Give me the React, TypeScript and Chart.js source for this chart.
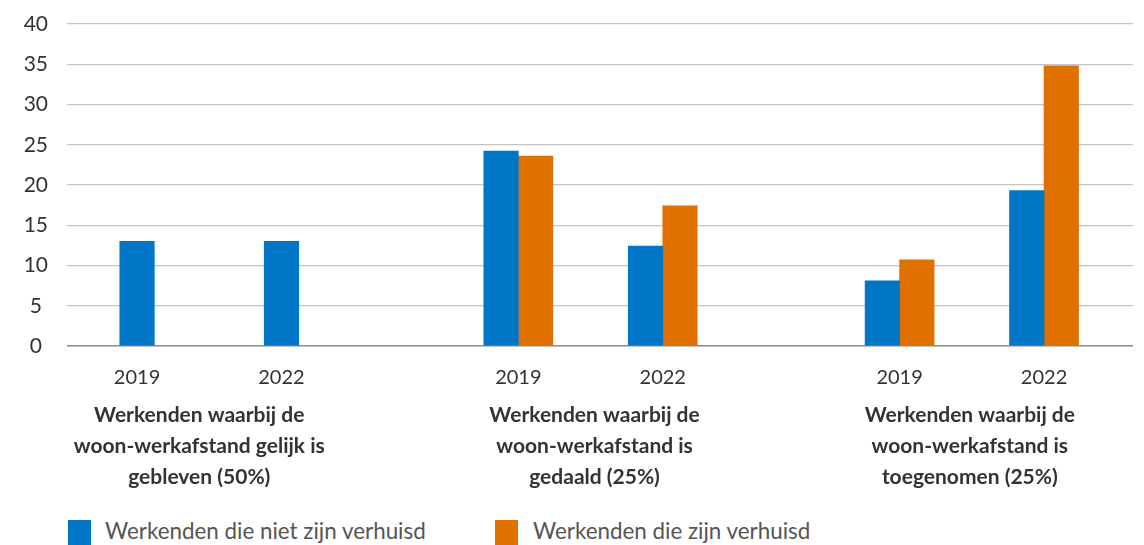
import React, { useEffect, useRef } from "react";
import { Chart, registerables } from "chart.js";

Chart.register(...registerables);

// ---- data ----
const yearLabels = ["2019", "2022", "2019", "2022", "2019", "2022"];
const groupTitles = [
  ["Werkenden waarbij de", "woon-werkafstand gelijk is", "gebleven (50%)"],
  ["Werkenden waarbij de", "woon-werkafstand is", "gedaald (25%)"],
  ["Werkenden waarbij de", "woon-werkafstand is", "toegenomen (25%)"],
];
const seriesNames = ["Werkenden die niet zijn verhuisd", "Werkenden die zijn verhuisd"];
const notMoved = [13.0, 13.0, 24.2, 12.4, 8.1, 19.3];
const moved: (number | null)[] = [null, null, 23.6, 17.4, 10.7, 34.8];
const yTicks = [0, 5, 10, 15, 20, 25, 30, 35, 40];

// ---- layout (slot positions on the x axis: year pitch 1, group pitch) ----
const GROUP_PITCH = 2.64;
const slotPos = yearLabels.map((_, i) => Math.floor(i / 2) * GROUP_PITCH + (i % 2));
const titleShift = [-10, 4, -2];

const BLUE = "#0076c6";
const ORANGE = "#e07000";
const FONT = "Lato";

const groupTitlePlugin = {
  id: "groupTitles",
  afterDraw(chart: any) {
    const { ctx, chartArea, scales } = chart;
    const xs = scales.x;
    ctx.save();
    ctx.fillStyle = "#333333";
    ctx.font = `bold 21px ${FONT}`;
    ctx.textAlign = "center";
    ctx.textBaseline = "middle";
    groupTitles.forEach((lines, g) => {
      const cx =
        (xs.getPixelForValue(slotPos[g * 2]) + xs.getPixelForValue(slotPos[g * 2 + 1])) / 2 + titleShift[g];
      lines.forEach((line, li) => {
        ctx.fillText(line, cx, chartArea.bottom + 69 + li * 31);
      });
    });
    ctx.restore();
  },
};

export default function App() {
  const ref = useRef<HTMLCanvasElement>(null);

  useEffect(() => {
    if (!ref.current) return;
    const chart = new Chart(ref.current, {
      type: "bar",
      data: {
        datasets: [
          {
            label: seriesNames[0],
            data: notMoved.map((v, i) => ({ x: slotPos[i], y: v })),
            backgroundColor: BLUE,
          },
          {
            label: seriesNames[1],
            data: moved.map((v, i) => ({ x: slotPos[i], y: v })),
            backgroundColor: ORANGE,
          },
        ],
      },
      options: {
        responsive: false,
        animation: false,
        maintainAspectRatio: false,
        layout: { padding: { top: 24, right: 11, left: 0, bottom: 0 } },
        datasets: {
          bar: { barThickness: 34.5, skipNull: true, grouped: true } as any,
        },
        plugins: {
          legend: { display: false },
          tooltip: { enabled: false },
        },
        scales: {
          x: {
            type: "linear",
            min: -0.485,
            max: 6.896,
            offset: false,
            grid: { display: false, offset: false },
            border: { display: false },
            afterBuildTicks: (scale: any) => {
              scale.ticks = slotPos.map((v) => ({ value: v }));
            },
            afterFit: (scale: any) => {
              scale.height = 154;
            },
            ticks: {
              autoSkip: false,
              maxRotation: 0,
              padding: 12,
              color: "#333333",
              font: { family: FONT, size: 20 },
              callback: (_v: any, i: number) => yearLabels[i],
            },
          },
          y: {
            min: 0,
            max: 40,
            afterBuildTicks: (scale: any) => {
              scale.ticks = yTicks.map((v) => ({ value: v }));
            },
            afterFit: (scale: any) => {
              scale.width = 67;
              scale.paddingTop = 12;
              scale.paddingBottom = 12;
            },
            border: { display: false },
            grid: {
              drawTicks: false,
              color: (c: any) => (c.tick && c.tick.value === 0 ? "#8a8a8a" : "#c4c4c4"),
              lineWidth: (c: any) => (c.tick && c.tick.value === 0 ? 1.6 : 1.2),
            },
            ticks: {
              crossAlign: "center",
              padding: 19,
              color: "#333333",
              font: { family: FONT, size: 21 },
            },
          },
        },
      },
      plugins: [groupTitlePlugin],
    });
    return () => chart.destroy();
  }, []);

  const legendItem = (color: string, text: string, boxLeft: number, textLeft: number) => (
    <>
      <div
        style={{ position: "absolute", left: boxLeft, top: 520, width: 23, height: 25, background: color }}
      />
      <div
        style={{
          position: "absolute",
          left: textLeft,
          top: 517,
          fontFamily: FONT,
          fontSize: 22.4,
          lineHeight: "28px",
          color: "#555555",
          whiteSpace: "nowrap",
        }}
      >
        {text}
      </div>
    </>
  );

  return (
    <div
      style={{
        position: "fixed",
        left: 0,
        top: 0,
        width: 1144,
        height: 545,
        overflow: "hidden",
        background: "#ffffff",
      }}
    >
      <canvas ref={ref} width={1144} height={500} style={{ position: "absolute", left: 0, top: 0, display: "block" }} />
      {legendItem(BLUE, seriesNames[0], 68, 105)}
      {legendItem(ORANGE, seriesNames[1], 495, 533)}
    </div>
  );
}
